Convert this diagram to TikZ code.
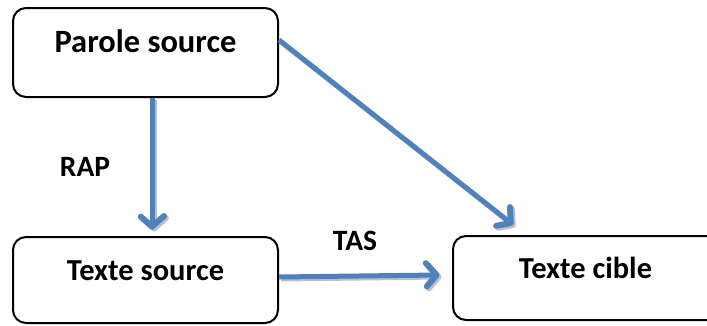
\documentclass[tikz,border=0pt]{standalone}
\usepackage{fontspec}
\setmainfont{Carlito}
\usetikzlibrary{decorations.markings}
\definecolor{arrowblue}{RGB}{79,129,189}
\definecolor{shadowgray}{RGB}{192,192,192}
\tikzset{
  box/.style={draw=black, line width=2pt, rounded corners=13pt, minimum width=265pt,
    text height=21pt, text depth=21pt, inner sep=0pt, font=\bfseries\fontsize{30.5}{35}\selectfont},
  lbl/.style={inner sep=0pt, font=\bfseries\fontsize{29.5}{34}\selectfont},
  chevron/.style={decoration={markings, mark=at position 1 with {
      \draw[line width=6pt, line cap=round, line join=round, #1]
        (-12pt,12pt) -- (-1.5pt,0pt) -- (-12pt,-12pt);}},
    postaction=decorate},
  flow/.style={draw=arrowblue, line width=5pt, shorten >=1pt, chevron=arrowblue},
  flowshadow/.style={draw=shadowgray, line width=5pt, shorten >=1pt, chevron=shadowgray,
    transform canvas={xshift=2pt,yshift=-2pt}}
}
\begin{document}
\begin{tikzpicture}[x=1pt,y=-1pt]
\useasboundingbox (0,0) rectangle (707,325);
\clip (0,0) rectangle (707,325);
\node[box, minimum height=89pt, font=\bfseries\fontsize{32.5}{37}\selectfont] (a) at (145.5,52.5) {Parole source};
\node[box, minimum height=86pt] (b) at (145.5,280) {Texte source};
\node[box, minimum height=84pt, minimum width=300pt] (c) at (603,278) {\hspace*{-35pt}Texte cible};
\node[lbl] (rap) at (85,167) {RAP};
\node[lbl] (tas) at (355,241) {TAS};
\coordinate (tipv) at ([xshift=6.5pt,yshift=8pt]a.south |- b.north);
\coordinate (tiph) at ([xshift=-14pt,yshift=3pt]c.west);
\coordinate (tipd) at ([xshift=-91pt,yshift=11pt]c.north);
% shadows
\path[flowshadow] ([xshift=6.5pt]a.south) -- (tipv);
\path[flowshadow] ([yshift=3pt]b.east) -- (tiph);
\path[flowshadow] ([yshift=12.5pt]a.east) -- (tipd);
% arrows
\path[flow] ([xshift=6.5pt]a.south) -- (tipv);
\path[flow] ([yshift=3pt]b.east) -- (tiph);
\path[flow] ([yshift=12.5pt]a.east) -- (tipd);
\end{tikzpicture}
\end{document}
